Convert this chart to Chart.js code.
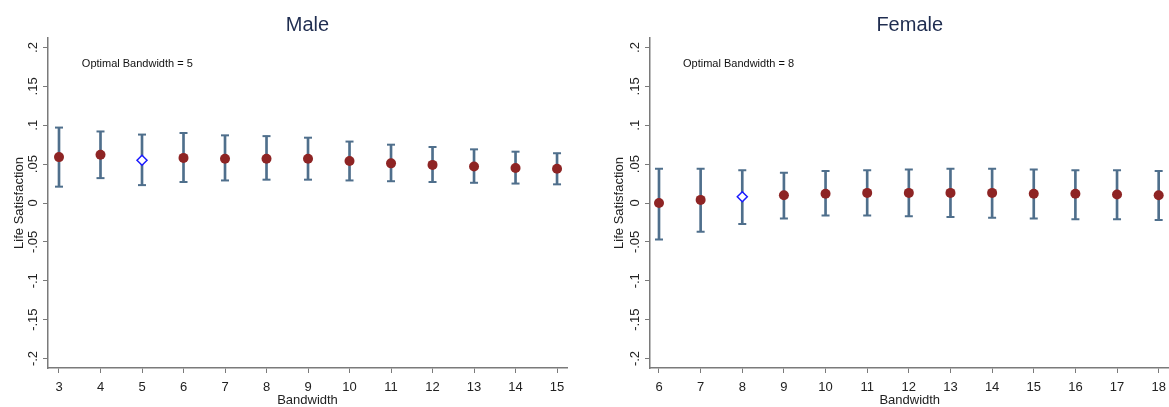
<!DOCTYPE html>
<html>
<head>
<meta charset="utf-8">
<script src="https://cdn.jsdelivr.net/npm/chart.js@4.4.0/dist/chart.umd.min.js"></script>
<style>
  body { margin: 0; background: #fff; width: 1169px; height: 407px; position: relative; overflow: hidden; }
  .panel { position: absolute; top: 0; height: 407px; }
</style>
</head>
<body>
<div class="panel" style="left:0;width:584px"><canvas id="maleChart"></canvas></div>
<div class="panel" style="left:600px;width:576px"><canvas id="femaleChart"></canvas></div>
<script>
// Male panel
const maleBandwidth = [3, 4, 5, 6, 7, 8, 9, 10, 11, 12, 13, 14, 15];
const maleEstimate = [0.059, 0.062, 0.055, 0.058, 0.057, 0.057, 0.057, 0.054, 0.051, 0.049, 0.047, 0.045, 0.044];
const maleLower = [0.021, 0.032, 0.023, 0.027, 0.029, 0.030, 0.030, 0.029, 0.028, 0.027, 0.026, 0.025, 0.024];
const maleUpper = [0.097, 0.092, 0.088, 0.090, 0.087, 0.086, 0.084, 0.079, 0.075, 0.072, 0.069, 0.066, 0.064];
const maleOptimal = 5;

// Female panel
const femaleBandwidth = [6, 7, 8, 9, 10, 11, 12, 13, 14, 15, 16, 17, 18];
const femaleEstimate = [0.000, 0.004, 0.008, 0.010, 0.012, 0.013, 0.013, 0.013, 0.013, 0.012, 0.012, 0.011, 0.010];
const femaleLower = [-0.047, -0.037, -0.027, -0.020, -0.016, -0.016, -0.017, -0.018, -0.019, -0.020, -0.021, -0.021, -0.022];
const femaleUpper = [0.044, 0.044, 0.042, 0.039, 0.041, 0.042, 0.043, 0.044, 0.044, 0.043, 0.042, 0.042, 0.041];
const femaleOptimal = 8;

const yTickValues = [-0.2, -0.15, -0.1, -0.05, 0, 0.05, 0.1, 0.15, 0.2];
const yTickLabels = ['-.2', '-.15', '-.1', '-.05', '0', '.05', '.1', '.15', '.2'];

const barColor = '#4f6f8c';
const dotColor = '#8e2424';
const diamondColor = '#1a1aff';
const axisColor = '#7a7a7a';
const font = 'Liberation Sans, Arial, sans-serif';

// text label placed in data units
const notePlugin = {
    id: 'note',
    afterDatasetsDraw(chart, args, opts) {
        const ctx = chart.ctx;
        ctx.save();
        ctx.font = '11px ' + font;
        ctx.fillStyle = '#111';
        ctx.textAlign = 'left';
        ctx.textBaseline = 'middle';
        ctx.fillText(opts.text, chart.scales.x.getPixelForValue(opts.x), chart.scales.y.getPixelForValue(opts.y));
        ctx.restore();
    }
};

function makePanel(id, title, bw, est, lo, hi, optimal, p) {
    const isOpt = i => bw[i] === optimal;
    new Chart(document.getElementById(id), {
        type: 'scatter',
        data: {
            datasets: [{
                type: 'bar',
                data: bw.map((x, i) => ({ x: x, y: [lo[i], hi[i]] })),
                backgroundColor: barColor,
                barThickness: 2,
                order: 3
            }, {
                data: bw.map((x, i) => ({ x: x, y: lo[i] })).concat(bw.map((x, i) => ({ x: x, y: hi[i] }))),
                pointStyle: 'line',
                radius: 4,
                borderWidth: 2,
                borderColor: barColor,
                order: 2
            }, {
                data: bw.map((x, i) => ({ x: x, y: est[i] })),
                pointStyle: ctx => isOpt(ctx.dataIndex) ? 'rectRot' : 'circle',
                radius: 5,
                backgroundColor: ctx => isOpt(ctx.dataIndex) ? '#fff' : dotColor,
                borderColor: ctx => isOpt(ctx.dataIndex) ? diamondColor : dotColor,
                borderWidth: ctx => isOpt(ctx.dataIndex) ? 1.5 : 0,
                order: 1
            }]
        },
        options: {
            responsive: true,
            maintainAspectRatio: false,
            animation: false,
            events: [],
            layout: { padding: { left: 0, right: p.padRight, top: 0, bottom: 0 } },
            plugins: {
                legend: { display: false },
                tooltip: { enabled: false },
                title: {
                    display: true,
                    text: title,
                    fullSize: false,
                    color: '#1f2d50',
                    font: { family: font, size: 20, weight: 'normal' },
                    padding: { top: 13, bottom: 1 }
                },
                note: { text: 'Optimal Bandwidth = ' + optimal, x: p.noteX, y: 0.1794 }
            },
            scales: {
                x: {
                    type: 'linear',
                    min: p.xMin,
                    max: p.xMax,
                    offset: false,
                    afterBuildTicks: s => { s.ticks = bw.map(v => ({ value: v })); },
                    afterFit: s => { s.height = 39; },
                    ticks: { color: '#222', font: { family: font, size: 13 }, padding: 7, maxRotation: 0, autoSkip: false },
                    grid: { offset: false, drawOnChartArea: false, drawTicks: true, tickLength: 5, color: axisColor, lineWidth: 1 },
                    border: { display: true, color: axisColor, width: 1.5 },
                    title: { display: true, text: 'Bandwidth', color: '#222', font: { family: font, size: 13 }, padding: { top: 0, bottom: -1 } }
                },
                y: {
                    min: -0.2122,
                    max: 0.2122,
                    afterBuildTicks: s => { s.ticks = yTickValues.map(v => ({ value: v })); },
                    afterFit: s => { s.width = p.axisLeft; },
                    ticks: {
                        color: '#222',
                        font: { family: font, size: 13 },
                        minRotation: 90,
                        maxRotation: 90,
                        crossAlign: 'center',
                        padding: -2,
                        autoSkip: false,
                        callback: (v, i) => yTickLabels[i]
                    },
                    grid: { drawOnChartArea: false, drawTicks: true, tickLength: 5, color: axisColor, lineWidth: 1 },
                    border: { display: true, color: axisColor, width: 1.5 },
                    title: { display: true, text: 'Life Satisfaction', color: '#222', font: { family: font, size: 13 }, padding: { top: 12, bottom: 0 } }
                }
            }
        },
        plugins: [notePlugin]
    });
}

makePanel('maleChart', 'Male', maleBandwidth, maleEstimate, maleLower, maleUpper, maleOptimal,
    { xMin: 2.735, xMax: 15.24, axisLeft: 48, padRight: 17, noteX: 3.55 });
makePanel('femaleChart', 'Female', femaleBandwidth, femaleEstimate, femaleLower, femaleUpper, femaleOptimal,
    { xMin: 5.784, xMax: 18.26, axisLeft: 50, padRight: 0, noteX: 6.577 });
</script>
</body>
</html>
